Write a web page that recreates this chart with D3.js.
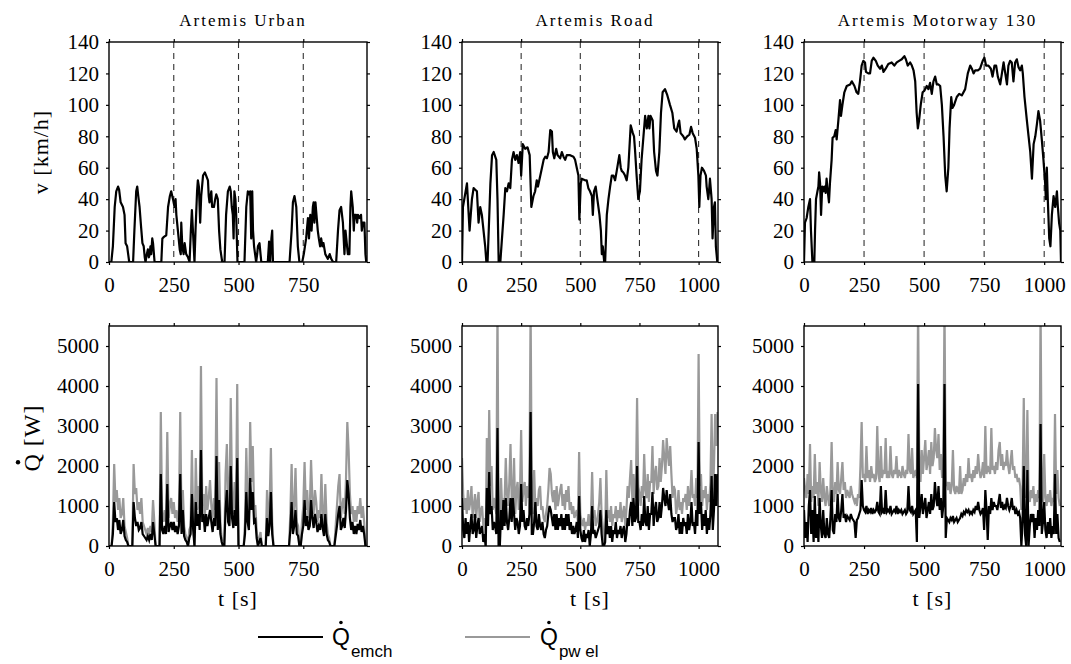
<!DOCTYPE html>
<html>
<head>
<meta charset="utf-8">
<script src="https://cdn.jsdelivr.net/npm/d3@7"></script>
<style>
  body { margin: 0; background: #fff; }
  svg { display: block; }
  .serif { font-family: 'Liberation Serif', Tinos, 'Times New Roman', Times, 'DejaVu Serif', 'Noto Serif', serif; }
  .sans { font-family: 'Liberation Sans', Arimo, Arial, sans-serif; }
</style>
</head>
<body>
<div id="chart"></div>
<script>
const width = 1071
const height = 664

// ---- data ----
const cycleNames = ['Artemis Urban', 'Artemis Road', 'Artemis Motorway 130']
const cycleEnds = [996, 1082, 1070]
const timeTicks = [0, 250, 500, 750, 1000]
const speedTicks = [0, 20, 40, 60, 80, 100, 120, 140]
const heatTicks = [0, 1000, 2000, 3000, 4000, 5000]
const sampleStep = 5 // s between heat samples

// speed profiles [t s, v km/h]
const urbanSpeed = [[0,0],[9,0],[15,10],[22,35],[28,45],[35,48],[39,46],[45,38],[54,35],[60,30],[64,12],[70,10],[78,0],[93,0],[98,20],[105,45],[109,48],[113,42],[118,35],[124,22],[129,12],[134,10],[138,3],[141,0],[146,5],[150,8],[154,3],[157,5],[160,10],[163,5],[167,15],[170,12],[176,0],[202,0],[206,15],[212,16],[221,17],[228,35],[235,42],[240,45],[247,40],[253,35],[257,40],[260,30],[266,20],[273,8],[277,5],[279,25],[283,10],[288,5],[292,12],[298,5],[305,3],[311,0],[316,20],[320,33],[324,20],[330,0],[334,20],[340,45],[343,52],[347,48],[352,25],[356,42],[363,55],[370,57],[375,55],[382,52],[385,42],[388,38],[395,45],[398,35],[405,35],[410,40],[414,43],[420,40],[425,20],[430,8],[437,0],[446,0],[452,30],[459,45],[466,48],[470,45],[474,35],[478,30],[481,15],[484,45],[488,40],[491,30],[496,0],[523,0],[530,35],[536,45],[540,43],[545,45],[549,15],[553,45],[556,20],[560,10],[568,0],[572,5],[575,10],[581,12],[585,5],[588,0],[613,0],[618,13],[620,5],[622,0],[627,15],[630,20],[633,0],[697,0],[705,20],[710,38],[716,42],[723,35],[729,10],[735,0],[746,0],[752,5],[761,15],[768,28],[772,15],[777,30],[782,20],[787,35],[790,38],[793,25],[797,38],[802,28],[806,20],[810,15],[815,10],[819,15],[824,10],[828,12],[835,5],[845,2],[852,5],[858,2],[865,0],[877,0],[884,20],[890,33],[896,35],[903,25],[909,5],[913,20],[916,15],[922,5],[928,5],[932,35],[935,45],[941,35],[945,20],[948,30],[954,30],[958,25],[961,30],[967,28],[973,30],[976,20],[980,25],[986,25],[990,5],[993,0]]

const roadSpeed = [[0,0],[4,35],[21,50],[32,20],[42,40],[49,47],[56,46],[63,45],[70,25],[77,35],[84,30],[91,20],[98,10],[103,0],[108,0],[113,20],[120,50],[127,68],[134,70],[145,65],[150,40],[155,0],[162,0],[169,15],[176,30],[183,47],[190,45],[197,50],[204,47],[211,65],[218,70],[225,65],[232,68],[239,63],[246,70],[250,55],[257,75],[267,72],[277,73],[286,68],[293,35],[302,42],[309,45],[316,52],[321,48],[331,55],[338,60],[345,65],[352,67],[359,66],[366,70],[373,84],[380,83],[384,70],[390,66],[398,72],[404,68],[415,66],[422,70],[429,67],[436,65],[443,68],[457,68],[471,67],[478,65],[485,60],[492,55],[496,27],[502,50],[506,53],[520,52],[527,52],[534,47],[541,45],[549,42],[553,30],[558,45],[565,48],[572,40],[581,30],[587,20],[591,5],[595,10],[601,0],[605,0],[612,30],[619,40],[626,48],[633,55],[640,55],[647,52],[654,58],[665,68],[671,60],[675,58],[682,57],[689,55],[696,52],[703,60],[713,87],[722,82],[727,80],[731,72],[738,55],[745,40],[752,45],[759,65],[767,80],[774,93],[781,85],[788,93],[792,85],[797,93],[806,90],[812,70],[820,58],[826,55],[834,70],[841,95],[848,108],[858,110],[868,106],[879,100],[889,95],[897,85],[907,83],[914,88],[918,90],[924,82],[935,80],[942,78],[952,80],[961,81],[968,86],[975,82],[985,79],[992,72],[999,55],[1003,35],[1008,55],[1014,60],[1023,58],[1031,55],[1034,48],[1041,40],[1044,45],[1048,53],[1055,40],[1059,15],[1065,35],[1069,38],[1073,10],[1079,0]]

const motorwaySpeed = [[0,0],[4,25],[11,28],[18,35],[25,40],[29,20],[35,0],[43,0],[46,20],[50,40],[56,45],[60,48],[63,57],[67,50],[71,30],[76,48],[81,45],[85,48],[90,44],[94,53],[99,45],[104,38],[108,50],[115,65],[119,79],[126,80],[132,84],[136,78],[143,90],[150,103],[154,93],[160,100],[168,108],[178,112],[192,113],[199,115],[210,112],[219,108],[226,107],[233,115],[240,125],[247,128],[254,127],[258,121],[268,120],[275,120],[282,128],[289,130],[299,128],[307,125],[317,123],[324,125],[331,121],[340,123],[351,126],[365,127],[376,125],[386,127],[396,128],[407,129],[418,131],[424,129],[432,125],[442,127],[449,125],[456,122],[463,115],[469,95],[474,85],[479,90],[486,100],[494,108],[501,109],[511,112],[518,110],[525,114],[532,107],[539,115],[546,118],[553,113],[560,113],[567,112],[574,100],[581,80],[588,55],[594,45],[601,60],[606,85],[613,105],[618,98],[625,100],[636,105],[646,107],[657,106],[671,110],[682,120],[692,125],[699,123],[706,120],[713,122],[724,122],[733,123],[744,128],[751,130],[758,125],[768,125],[778,123],[785,118],[793,125],[800,125],[807,118],[817,113],[824,120],[831,127],[838,120],[845,113],[851,125],[858,128],[865,127],[872,115],[879,127],[886,129],[893,124],[900,122],[907,125],[911,120],[918,105],[928,90],[935,80],[942,70],[949,53],[956,75],[963,80],[970,88],[976,96],[983,90],[990,78],[997,65],[1004,50],[1007,40],[1011,60],[1015,40],[1021,15],[1026,10],[1032,30],[1039,42],[1046,35],[1053,45],[1057,35],[1062,25],[1067,20],[1070,0]]

// heat flows [W], one value every sampleStep seconds from t = 0
const urbanPwel = [
  0,0,0,600,2050,1100,1400,900,1200,700,
  800,1200,500,350,200,0,0,0,0,2050,
  1300,1450,900,1100,800,1200,600,500,400,300,
  450,300,500,350,1150,600,0,0,0,0,
  3350,800,600,900,600,2850,700,1000,1200,800,
  1100,700,900,600,900,3350,600,1400,500,300,
  200,0,400,500,2400,700,0,2200,900,1500,
  800,4500,1000,1300,700,1500,900,1200,1650,1000,
  700,1200,900,4200,700,2100,600,200,0,0,
  1800,2550,1100,900,3700,1300,800,1600,900,4050,
  0,0,0,0,0,600,2450,1100,700,3100,
  1600,2500,1000,1000,400,0,200,350,0,0,
  0,0,1400,500,1000,2450,600,0,0,0,
  0,0,0,0,0,0,0,0,0,0,
  800,2050,600,1000,1950,600,500,0,0,600,
  1000,2100,900,1400,700,900,2150,1200,800,1400,
  1100,600,900,700,1800,800,500,1550,600,300,
  200,0,0,0,0,500,1000,1500,1800,700,
  1000,1200,800,1700,3100,2400,1300,800,1000,600,
  900,600,1000,800,1200,700,1000,600,0]
const urbanEmch = [
  0,0,0,300,1100,600,700,400,650,300,
  400,650,250,150,100,0,0,0,0,1100,
  700,500,600,400,450,600,300,250,200,150,
  250,150,300,150,600,300,0,0,0,0,
  1800,400,300,500,300,1550,350,500,600,400,
  600,350,500,300,500,1800,300,900,250,150,
  100,0,200,300,1300,400,0,1100,500,800,
  400,2400,600,800,350,800,500,700,900,600,
  350,700,500,2250,400,1150,300,100,0,0,
  900,1400,600,500,2000,700,450,900,500,2200,
  0,0,0,0,0,300,1350,600,400,1700,
  900,1350,600,650,200,0,100,200,0,0,
  0,0,700,250,500,1350,300,0,0,0,
  0,0,0,0,0,0,0,0,0,0,
  400,1100,300,500,900,300,250,0,0,300,
  500,1150,500,750,400,500,1150,700,450,800,
  600,350,500,400,800,450,250,800,300,150,
  100,0,0,0,0,250,500,800,1000,400,
  500,700,450,900,1650,1300,700,400,600,300,
  500,300,550,400,650,350,500,300,0]

const roadPwel = [
  2200,1300,900,1200,800,1400,900,1100,1500,700,
  1000,1300,700,1100,1350,600,900,1000,500,700,
  0,2700,1000,3400,1500,2000,900,1200,1000,800,
  6000,0,0,1700,900,1200,1100,2200,1300,1000,
  1600,2550,1200,1000,2200,800,1400,1600,900,1300,
  2900,1100,1400,1600,1000,1500,1200,1600,6000,1000,
  800,1900,900,1200,1000,1400,1500,900,1000,700,
  600,800,1000,1400,1950,1800,1300,1100,1400,900,
  1500,1000,1200,1400,1550,1000,1300,900,1400,1100,
  1500,900,1100,800,1000,700,800,900,600,2350,
  800,600,500,700,400,600,500,800,500,700,
  1850,700,900,500,600,800,1100,1700,800,500,
  0,300,1900,700,900,600,1000,500,800,700,
  1000,600,900,700,1100,600,800,1000,500,900,
  1500,1200,1700,2150,1100,1800,1200,1500,3700,1500,
  1300,1000,1500,1200,2300,1400,1200,1800,1100,1600,
  1600,2500,1300,1800,2000,1400,1500,2200,1600,2000,
  2650,2200,1800,2700,2300,2000,2500,1800,1200,1500,
  1400,800,1000,1400,900,1100,800,1200,1100,1300,
  900,1500,1000,1300,1900,1200,1300,1000,1700,1200,
  4800,1500,1800,1000,1400,1200,1500,900,1300,1100,
  1600,3300,1200,2000,3300,2500,3350]
const roadEmch = [
  1200,400,200,700,300,600,100,500,800,300,
  400,800,200,500,700,300,400,500,100,300,
  0,1450,500,1850,800,1000,400,600,500,300,
  2950,0,0,900,400,1150,500,1200,600,400,
  700,1200,600,1200,800,400,700,600,300,500,
  1550,600,900,500,400,700,500,800,3350,300,
  300,600,1100,500,400,800,500,400,600,300,
  200,400,500,800,1000,900,700,500,800,400,
  800,400,700,500,800,400,700,400,800,500,
  800,400,600,300,500,300,400,600,200,1250,
  400,200,100,400,100,300,200,400,0,300,
  1000,300,400,200,300,400,500,900,300,0,
  0,100,900,300,500,200,500,100,400,300,
  600,200,400,300,500,200,400,500,100,300,
  700,500,900,1100,500,1200,600,700,2000,600,
  600,400,800,500,1250,600,500,1000,400,800,
  800,1350,500,900,1100,600,700,1100,700,1000,
  1450,1200,1000,1400,1100,900,1300,800,600,700,
  700,400,500,800,300,600,300,700,500,600,
  300,800,400,600,1100,500,600,300,900,500,
  2600,800,1100,400,800,500,900,300,700,400,
  800,1750,400,900,1800,1000,1800]

const motorwayPwel = [
  1700,1400,1200,1800,1300,2550,1100,1500,1200,2300,
  1300,1600,1000,2100,1400,1100,1700,1200,1000,1500,
  1200,1000,1400,2600,1300,1100,1600,1300,2100,1400,
  1300,1700,2100,1400,1600,1200,1400,1300,1200,1500,
  1300,1200,1100,1200,1000,1300,1200,2000,3100,1700,
  1800,1600,2500,1700,1900,1600,2000,1700,1800,1600,
  1700,3000,1800,1600,2500,1700,1900,1800,2700,1700,
  1800,1700,2500,1800,1700,1900,1800,2250,1700,1900,
  1800,1700,2000,1800,1700,1900,1800,2800,1900,1800,
  2450,1700,1800,1900,1700,6000,2000,1600,2400,1800,
  2200,2650,1900,2100,2400,1800,2600,2000,2200,2950,
  2400,2200,2800,1900,2300,1700,2000,6000,1500,1600,
  1400,1600,1300,1500,2400,1400,1300,1500,1400,1300,
  2000,1300,1400,1700,1500,1800,1600,2200,1700,1800,
  1600,1900,1700,2000,1800,2300,1900,1700,1800,2100,
  1700,3000,1800,2000,1900,1800,2950,1900,2000,1800,
  2100,1900,2400,2600,2000,2300,1900,2100,2000,2400,
  2000,1800,2100,2400,1900,2000,1700,1800,1600,1700,
  1500,900,1400,3700,1200,1500,3400,1300,1100,1400,
  1200,1500,1000,1300,1100,1400,1200,6000,1300,1100,
  2300,1200,1000,1300,1100,1400,1000,1200,1100,3300,
  1300,1900,1200,1000]
const motorwayEmch = [
  900,200,600,100,1000,1400,300,900,100,1250,
  200,800,100,1200,500,200,900,300,200,700,
  300,200,700,1400,400,300,800,600,1300,700,
  600,900,1300,700,800,600,750,700,650,800,
  700,650,600,200,650,700,800,900,1650,1000,
  900,850,1000,800,900,850,950,800,900,850,
  900,1100,850,800,1500,850,900,800,1400,850,
  900,850,1000,800,850,900,850,1000,800,900,
  850,900,800,850,900,800,850,1500,900,850,
  1000,800,850,900,100,4050,700,1000,1300,800,
  1000,1200,700,900,1100,800,1300,900,1000,1600,
  1200,1000,1500,900,1200,700,1000,4050,200,700,
  650,600,700,650,750,600,650,700,600,650,
  700,800,750,850,800,900,850,900,800,850,
  800,900,850,1000,900,1100,900,800,850,950,
  400,1400,900,150,1000,800,1200,900,1100,1000,
  1000,900,1100,1300,950,1100,900,1000,950,1200,
  1000,900,1000,1200,900,1000,800,900,800,850,
  700,0,600,2000,300,0,1900,0,500,800,
  600,800,200,700,400,900,500,3050,300,600,
  1100,400,200,600,300,700,200,500,300,1800,
  300,800,200,100]

const speedData = [urbanSpeed, roadSpeed, motorwaySpeed]
const pwelData = [urbanPwel, roadPwel, motorwayPwel]
const emchData = [urbanEmch, roadEmch, motorwayEmch]

// ---- layout ----
const colLeft = [109, 462, 804]
const colWidth = [258, 256, 257]
const speedRow = { top: 42, bottom: 262 }
const heatRow = { top: 326, bottom: 546 }

const svg = d3
  .select('#chart')
  .append('svg')
  .attr('width', width)
  .attr('height', height)

const defs = svg.append('defs')

function styleAxis(g) {
  g.attr('font-family', null).attr('font-size', null)
  g.selectAll('text')
    .attr('class', 'serif')
    .style('font-size', '21px')
    .attr('fill', '#000')
  g.selectAll('line').attr('stroke', '#000').attr('stroke-width', 1.2)
  g.select('.domain').remove()
}

function drawFrame(g, x, y, w, h, tickVals, yTicks) {
  const xAxis = d3.axisBottom(x).tickValues(tickVals).tickSize(3).tickSizeOuter(0).tickPadding(12).tickFormat(d3.format('d'))
  g.append('g').attr('transform', 'translate(0,' + h + ')').call(xAxis).call(styleAxis)
  g.append('g').call(d3.axisTop(x).tickValues(tickVals).tickSize(3).tickSizeOuter(0).tickFormat('')).call(styleAxis)
  const yAxis = d3.axisLeft(y).tickValues(yTicks).tickSize(3).tickSizeOuter(0).tickPadding(7).tickFormat(d3.format('d'))
  g.append('g').call(yAxis).call(styleAxis)
  g.append('g').attr('transform', 'translate(' + w + ',0)')
    .call(d3.axisRight(y).tickValues(yTicks).tickSize(3).tickSizeOuter(0).tickFormat('')).call(styleAxis)
  g.append('rect')
    .attr('width', w)
    .attr('height', h)
    .attr('fill', 'none')
    .attr('stroke', '#000')
    .attr('stroke-width', 1.4)
}

cycleNames.forEach((name, c) => {
  const w = colWidth[c]
  const tEnd = cycleEnds[c]
  const ticks = timeTicks.filter(t => t <= tEnd)

  const x = d3.scaleLinear().domain([0, tEnd]).range([0, w])

  // --- speed panel ---
  const hS = speedRow.bottom - speedRow.top
  const yS = d3.scaleLinear().domain([0, 140]).range([hS, 0])
  const gS = svg.append('g').attr('transform', 'translate(' + colLeft[c] + ',' + speedRow.top + ')')

  defs.append('clipPath').attr('id', 'clipS' + c)
    .append('rect').attr('width', w).attr('height', hS)

  gS.selectAll('.guide')
    .data(ticks.filter(t => t > 0))
    .enter()
    .append('line')
    .attr('x1', d => x(d))
    .attr('x2', d => x(d))
    .attr('y1', 0)
    .attr('y2', hS)
    .attr('stroke', '#333')
    .attr('stroke-width', 1.1)
    .attr('stroke-dasharray', '6,5')

  const speedLine = d3.line().x(d => x(d[0])).y(d => yS(d[1]))
  gS.append('path')
    .datum(speedData[c])
    .attr('clip-path', 'url(#clipS' + c + ')')
    .attr('d', speedLine)
    .attr('fill', 'none')
    .attr('stroke', '#000')
    .attr('stroke-width', 2.2)
    .attr('stroke-linejoin', 'round')

  drawFrame(gS, x, yS, w, hS, ticks, speedTicks)

  svg.append('text')
    .attr('class', 'serif')
    .attr('x', colLeft[c] + w / 2 + 5)
    .attr('y', 26)
    .attr('text-anchor', 'middle')
    .style('font-size', '17px')
    .style('letter-spacing', '2px')
    .text(name)

  // --- heat panel ---
  const hH = heatRow.bottom - heatRow.top
  const yH = d3.scaleLinear().domain([0, 5500]).range([hH, 0])
  const gH = svg.append('g').attr('transform', 'translate(' + colLeft[c] + ',' + heatRow.top + ')')

  defs.append('clipPath').attr('id', 'clipH' + c)
    .append('rect').attr('width', w).attr('height', hH)

  const heatLine = d3.line().x((d, i) => x(i * sampleStep)).y(d => yH(d))
  gH.append('path')
    .datum(pwelData[c])
    .attr('clip-path', 'url(#clipH' + c + ')')
    .attr('d', heatLine)
    .attr('fill', 'none')
    .attr('stroke', '#999')
    .attr('stroke-width', 2.2)
  gH.append('path')
    .datum(emchData[c])
    .attr('clip-path', 'url(#clipH' + c + ')')
    .attr('d', heatLine)
    .attr('fill', 'none')
    .attr('stroke', '#000')
    .attr('stroke-width', 2.2)

  drawFrame(gH, x, yH, w, hH, ticks, heatTicks)

  svg.append('text')
    .attr('class', 'serif')
    .attr('x', colLeft[c] + w / 2)
    .attr('y', 606)
    .attr('text-anchor', 'middle')
    .style('font-size', '22px')
    .style('letter-spacing', '1px')
    .text('t [s]')
})

// y labels
svg.append('text')
  .attr('class', 'serif')
  .attr('transform', 'translate(48,' + (speedRow.top + speedRow.bottom) / 2 + ') rotate(-90)')
  .attr('text-anchor', 'middle')
  .style('font-size', '22px')
  .style('letter-spacing', '1px')
  .text('v [km/h]')

const qLab = svg.append('g')
  .attr('transform', 'translate(40,' + ((heatRow.top + heatRow.bottom) / 2 + 2) + ') rotate(-90)')
const qText = qLab.append('text')
  .attr('class', 'serif')
  .attr('text-anchor', 'middle')
  .style('font-size', '24px')
  .style('letter-spacing', '1px')
  .text('Q [W]')
const qLen = qText.node().getComputedTextLength()
const qW = qText.node().getSubStringLength(0, 1)
qLab.append('circle')
  .attr('cx', -qLen / 2 + qW / 2)
  .attr('cy', -22)
  .attr('r', 2.2)
  .attr('fill', '#000')

// legend
const legendItems = [
  { sub: 'emch', color: '#000', x1: 258, x2: 323, tx: 332 },
  { sub: 'pw el', color: '#999', x1: 465, x2: 530, tx: 540 }
]
legendItems.forEach(item => {
  svg.append('line')
    .attr('x1', item.x1)
    .attr('x2', item.x2)
    .attr('y1', 637)
    .attr('y2', 637)
    .attr('stroke', item.color)
    .attr('stroke-width', 2)
  const q = svg.append('text')
    .attr('class', 'sans')
    .attr('x', item.tx)
    .attr('y', 645)
    .style('font-size', '23px')
    .text('Q')
  const qw = q.node().getComputedTextLength()
  svg.append('circle')
    .attr('cx', item.tx + qw / 2)
    .attr('cy', 622.5)
    .attr('r', 1.8)
    .attr('fill', '#000')
  svg.append('text')
    .attr('class', 'sans')
    .attr('x', item.tx + qw + 1)
    .attr('y', 657)
    .style('font-size', '17px')
    .text(item.sub)
})
</script>
</body>
</html>
